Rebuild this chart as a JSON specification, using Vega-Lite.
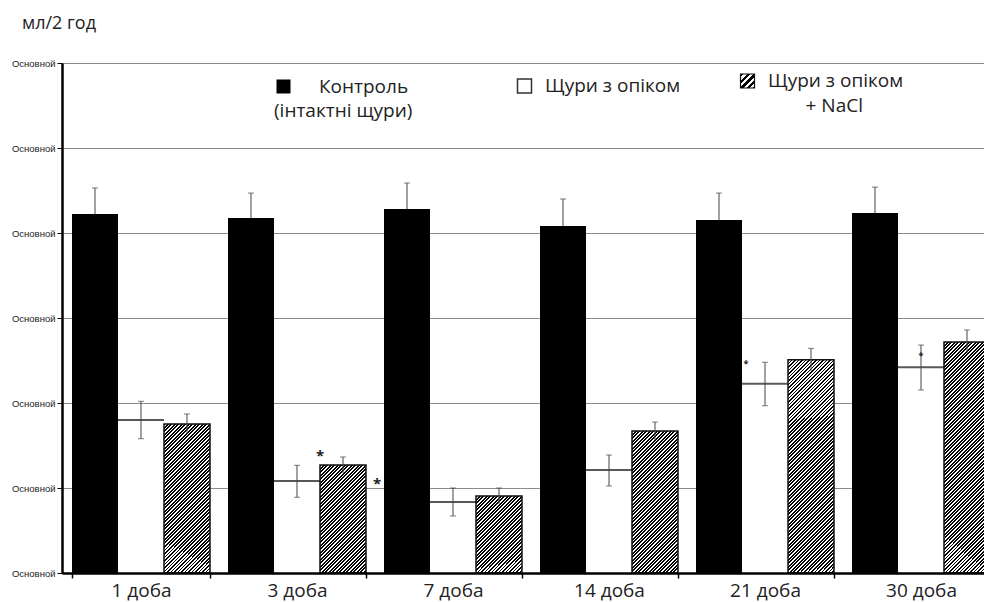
{
  "$schema": "https://vega.github.io/schema/vega-lite/v6.json",
  "autosize": "none",
  "width": 922,
  "height": 510,
  "padding": {"left": 62, "top": 63, "right": 0, "bottom": 29},
  "background": "white",
  "title": {"text": "мл/2 год", "anchor": "start", "frame": "group", "dx": -40, "offset": 11, "fontSize": 18, "fontWeight": "normal", "font": "Open Sans", "color": "#222", "baseline": "alphabetic"},
  "params": [{"name": "hatch", "value": [
    {"offset":0,"color":"#000"},{"offset":0.00625,"color":"#000"},{"offset":0.00625,"color":"#fff"},{"offset":0.0125,"color":"#fff"},
    {"offset":0.0125,"color":"#000"},{"offset":0.01875,"color":"#000"},{"offset":0.01875,"color":"#fff"},{"offset":0.025,"color":"#fff"},
    {"offset":0.025,"color":"#000"},{"offset":0.03125,"color":"#000"},{"offset":0.03125,"color":"#fff"},{"offset":0.0375,"color":"#fff"},
    {"offset":0.0375,"color":"#000"},{"offset":0.04375,"color":"#000"},{"offset":0.04375,"color":"#fff"},{"offset":0.05,"color":"#fff"},
    {"offset":0.05,"color":"#000"},{"offset":0.05625,"color":"#000"},{"offset":0.05625,"color":"#fff"},{"offset":0.0625,"color":"#fff"},
    {"offset":0.0625,"color":"#000"},{"offset":0.06875,"color":"#000"},{"offset":0.06875,"color":"#fff"},{"offset":0.075,"color":"#fff"},
    {"offset":0.075,"color":"#000"},{"offset":0.08125,"color":"#000"},{"offset":0.08125,"color":"#fff"},{"offset":0.0875,"color":"#fff"},
    {"offset":0.0875,"color":"#000"},{"offset":0.09375,"color":"#000"},{"offset":0.09375,"color":"#fff"},{"offset":0.1,"color":"#fff"},
    {"offset":0.1,"color":"#000"},{"offset":0.10625,"color":"#000"},{"offset":0.10625,"color":"#fff"},{"offset":0.1125,"color":"#fff"},
    {"offset":0.1125,"color":"#000"},{"offset":0.11875,"color":"#000"},{"offset":0.11875,"color":"#fff"},{"offset":0.125,"color":"#fff"},
    {"offset":0.125,"color":"#000"},{"offset":0.13125,"color":"#000"},{"offset":0.13125,"color":"#fff"},{"offset":0.1375,"color":"#fff"},
    {"offset":0.1375,"color":"#000"},{"offset":0.14375,"color":"#000"},{"offset":0.14375,"color":"#fff"},{"offset":0.15,"color":"#fff"},
    {"offset":0.15,"color":"#000"},{"offset":0.15625,"color":"#000"},{"offset":0.15625,"color":"#fff"},{"offset":0.1625,"color":"#fff"},
    {"offset":0.1625,"color":"#000"},{"offset":0.16875,"color":"#000"},{"offset":0.16875,"color":"#fff"},{"offset":0.175,"color":"#fff"},
    {"offset":0.175,"color":"#000"},{"offset":0.18125,"color":"#000"},{"offset":0.18125,"color":"#fff"},{"offset":0.1875,"color":"#fff"},
    {"offset":0.1875,"color":"#000"},{"offset":0.19375,"color":"#000"},{"offset":0.19375,"color":"#fff"},{"offset":0.2,"color":"#fff"},
    {"offset":0.2,"color":"#000"},{"offset":0.20625,"color":"#000"},{"offset":0.20625,"color":"#fff"},{"offset":0.2125,"color":"#fff"},
    {"offset":0.2125,"color":"#000"},{"offset":0.21875,"color":"#000"},{"offset":0.21875,"color":"#fff"},{"offset":0.225,"color":"#fff"},
    {"offset":0.225,"color":"#000"},{"offset":0.23125,"color":"#000"},{"offset":0.23125,"color":"#fff"},{"offset":0.2375,"color":"#fff"},
    {"offset":0.2375,"color":"#000"},{"offset":0.24375,"color":"#000"},{"offset":0.24375,"color":"#fff"},{"offset":0.25,"color":"#fff"},
    {"offset":0.25,"color":"#000"},{"offset":0.25625,"color":"#000"},{"offset":0.25625,"color":"#fff"},{"offset":0.2625,"color":"#fff"},
    {"offset":0.2625,"color":"#000"},{"offset":0.26875,"color":"#000"},{"offset":0.26875,"color":"#fff"},{"offset":0.275,"color":"#fff"},
    {"offset":0.275,"color":"#000"},{"offset":0.28125,"color":"#000"},{"offset":0.28125,"color":"#fff"},{"offset":0.2875,"color":"#fff"},
    {"offset":0.2875,"color":"#000"},{"offset":0.29375,"color":"#000"},{"offset":0.29375,"color":"#fff"},{"offset":0.3,"color":"#fff"},
    {"offset":0.3,"color":"#000"},{"offset":0.30625,"color":"#000"},{"offset":0.30625,"color":"#fff"},{"offset":0.3125,"color":"#fff"},
    {"offset":0.3125,"color":"#000"},{"offset":0.31875,"color":"#000"},{"offset":0.31875,"color":"#fff"},{"offset":0.325,"color":"#fff"},
    {"offset":0.325,"color":"#000"},{"offset":0.33125,"color":"#000"},{"offset":0.33125,"color":"#fff"},{"offset":0.3375,"color":"#fff"},
    {"offset":0.3375,"color":"#000"},{"offset":0.34375,"color":"#000"},{"offset":0.34375,"color":"#fff"},{"offset":0.35,"color":"#fff"},
    {"offset":0.35,"color":"#000"},{"offset":0.35625,"color":"#000"},{"offset":0.35625,"color":"#fff"},{"offset":0.3625,"color":"#fff"},
    {"offset":0.3625,"color":"#000"},{"offset":0.36875,"color":"#000"},{"offset":0.36875,"color":"#fff"},{"offset":0.375,"color":"#fff"},
    {"offset":0.375,"color":"#000"},{"offset":0.38125,"color":"#000"},{"offset":0.38125,"color":"#fff"},{"offset":0.3875,"color":"#fff"},
    {"offset":0.3875,"color":"#000"},{"offset":0.39375,"color":"#000"},{"offset":0.39375,"color":"#fff"},{"offset":0.4,"color":"#fff"},
    {"offset":0.4,"color":"#000"},{"offset":0.40625,"color":"#000"},{"offset":0.40625,"color":"#fff"},{"offset":0.4125,"color":"#fff"},
    {"offset":0.4125,"color":"#000"},{"offset":0.41875,"color":"#000"},{"offset":0.41875,"color":"#fff"},{"offset":0.425,"color":"#fff"},
    {"offset":0.425,"color":"#000"},{"offset":0.43125,"color":"#000"},{"offset":0.43125,"color":"#fff"},{"offset":0.4375,"color":"#fff"},
    {"offset":0.4375,"color":"#000"},{"offset":0.44375,"color":"#000"},{"offset":0.44375,"color":"#fff"},{"offset":0.45,"color":"#fff"},
    {"offset":0.45,"color":"#000"},{"offset":0.45625,"color":"#000"},{"offset":0.45625,"color":"#fff"},{"offset":0.4625,"color":"#fff"},
    {"offset":0.4625,"color":"#000"},{"offset":0.46875,"color":"#000"},{"offset":0.46875,"color":"#fff"},{"offset":0.475,"color":"#fff"},
    {"offset":0.475,"color":"#000"},{"offset":0.48125,"color":"#000"},{"offset":0.48125,"color":"#fff"},{"offset":0.4875,"color":"#fff"},
    {"offset":0.4875,"color":"#000"},{"offset":0.49375,"color":"#000"},{"offset":0.49375,"color":"#fff"},{"offset":0.5,"color":"#fff"},
    {"offset":0.5,"color":"#000"},{"offset":0.50625,"color":"#000"},{"offset":0.50625,"color":"#fff"},{"offset":0.5125,"color":"#fff"},
    {"offset":0.5125,"color":"#000"},{"offset":0.51875,"color":"#000"},{"offset":0.51875,"color":"#fff"},{"offset":0.525,"color":"#fff"},
    {"offset":0.525,"color":"#000"},{"offset":0.53125,"color":"#000"},{"offset":0.53125,"color":"#fff"},{"offset":0.5375,"color":"#fff"},
    {"offset":0.5375,"color":"#000"},{"offset":0.54375,"color":"#000"},{"offset":0.54375,"color":"#fff"},{"offset":0.55,"color":"#fff"},
    {"offset":0.55,"color":"#000"},{"offset":0.55625,"color":"#000"},{"offset":0.55625,"color":"#fff"},{"offset":0.5625,"color":"#fff"},
    {"offset":0.5625,"color":"#000"},{"offset":0.56875,"color":"#000"},{"offset":0.56875,"color":"#fff"},{"offset":0.575,"color":"#fff"},
    {"offset":0.575,"color":"#000"},{"offset":0.58125,"color":"#000"},{"offset":0.58125,"color":"#fff"},{"offset":0.5875,"color":"#fff"},
    {"offset":0.5875,"color":"#000"},{"offset":0.59375,"color":"#000"},{"offset":0.59375,"color":"#fff"},{"offset":0.6,"color":"#fff"},
    {"offset":0.6,"color":"#000"},{"offset":0.60625,"color":"#000"},{"offset":0.60625,"color":"#fff"},{"offset":0.6125,"color":"#fff"},
    {"offset":0.6125,"color":"#000"},{"offset":0.61875,"color":"#000"},{"offset":0.61875,"color":"#fff"},{"offset":0.625,"color":"#fff"},
    {"offset":0.625,"color":"#000"},{"offset":0.63125,"color":"#000"},{"offset":0.63125,"color":"#fff"},{"offset":0.6375,"color":"#fff"},
    {"offset":0.6375,"color":"#000"},{"offset":0.64375,"color":"#000"},{"offset":0.64375,"color":"#fff"},{"offset":0.65,"color":"#fff"},
    {"offset":0.65,"color":"#000"},{"offset":0.65625,"color":"#000"},{"offset":0.65625,"color":"#fff"},{"offset":0.6625,"color":"#fff"},
    {"offset":0.6625,"color":"#000"},{"offset":0.66875,"color":"#000"},{"offset":0.66875,"color":"#fff"},{"offset":0.675,"color":"#fff"},
    {"offset":0.675,"color":"#000"},{"offset":0.68125,"color":"#000"},{"offset":0.68125,"color":"#fff"},{"offset":0.6875,"color":"#fff"},
    {"offset":0.6875,"color":"#000"},{"offset":0.69375,"color":"#000"},{"offset":0.69375,"color":"#fff"},{"offset":0.7,"color":"#fff"},
    {"offset":0.7,"color":"#000"},{"offset":0.70625,"color":"#000"},{"offset":0.70625,"color":"#fff"},{"offset":0.7125,"color":"#fff"},
    {"offset":0.7125,"color":"#000"},{"offset":0.71875,"color":"#000"},{"offset":0.71875,"color":"#fff"},{"offset":0.725,"color":"#fff"},
    {"offset":0.725,"color":"#000"},{"offset":0.73125,"color":"#000"},{"offset":0.73125,"color":"#fff"},{"offset":0.7375,"color":"#fff"},
    {"offset":0.7375,"color":"#000"},{"offset":0.74375,"color":"#000"},{"offset":0.74375,"color":"#fff"},{"offset":0.75,"color":"#fff"},
    {"offset":0.75,"color":"#000"},{"offset":0.75625,"color":"#000"},{"offset":0.75625,"color":"#fff"},{"offset":0.7625,"color":"#fff"},
    {"offset":0.7625,"color":"#000"},{"offset":0.76875,"color":"#000"},{"offset":0.76875,"color":"#fff"},{"offset":0.775,"color":"#fff"},
    {"offset":0.775,"color":"#000"},{"offset":0.78125,"color":"#000"},{"offset":0.78125,"color":"#fff"},{"offset":0.7875,"color":"#fff"},
    {"offset":0.7875,"color":"#000"},{"offset":0.79375,"color":"#000"},{"offset":0.79375,"color":"#fff"},{"offset":0.8,"color":"#fff"},
    {"offset":0.8,"color":"#000"},{"offset":0.80625,"color":"#000"},{"offset":0.80625,"color":"#fff"},{"offset":0.8125,"color":"#fff"},
    {"offset":0.8125,"color":"#000"},{"offset":0.81875,"color":"#000"},{"offset":0.81875,"color":"#fff"},{"offset":0.825,"color":"#fff"},
    {"offset":0.825,"color":"#000"},{"offset":0.83125,"color":"#000"},{"offset":0.83125,"color":"#fff"},{"offset":0.8375,"color":"#fff"},
    {"offset":0.8375,"color":"#000"},{"offset":0.84375,"color":"#000"},{"offset":0.84375,"color":"#fff"},{"offset":0.85,"color":"#fff"},
    {"offset":0.85,"color":"#000"},{"offset":0.85625,"color":"#000"},{"offset":0.85625,"color":"#fff"},{"offset":0.8625,"color":"#fff"},
    {"offset":0.8625,"color":"#000"},{"offset":0.86875,"color":"#000"},{"offset":0.86875,"color":"#fff"},{"offset":0.875,"color":"#fff"},
    {"offset":0.875,"color":"#000"},{"offset":0.88125,"color":"#000"},{"offset":0.88125,"color":"#fff"},{"offset":0.8875,"color":"#fff"},
    {"offset":0.8875,"color":"#000"},{"offset":0.89375,"color":"#000"},{"offset":0.89375,"color":"#fff"},{"offset":0.9,"color":"#fff"},
    {"offset":0.9,"color":"#000"},{"offset":0.90625,"color":"#000"},{"offset":0.90625,"color":"#fff"},{"offset":0.9125,"color":"#fff"},
    {"offset":0.9125,"color":"#000"},{"offset":0.91875,"color":"#000"},{"offset":0.91875,"color":"#fff"},{"offset":0.925,"color":"#fff"},
    {"offset":0.925,"color":"#000"},{"offset":0.93125,"color":"#000"},{"offset":0.93125,"color":"#fff"},{"offset":0.9375,"color":"#fff"},
    {"offset":0.9375,"color":"#000"},{"offset":0.94375,"color":"#000"},{"offset":0.94375,"color":"#fff"},{"offset":0.95,"color":"#fff"},
    {"offset":0.95,"color":"#000"},{"offset":0.95625,"color":"#000"},{"offset":0.95625,"color":"#fff"},{"offset":0.9625,"color":"#fff"},
    {"offset":0.9625,"color":"#000"},{"offset":0.96875,"color":"#000"},{"offset":0.96875,"color":"#fff"},{"offset":0.975,"color":"#fff"},
    {"offset":0.975,"color":"#000"},{"offset":0.98125,"color":"#000"},{"offset":0.98125,"color":"#fff"},{"offset":0.9875,"color":"#fff"},
    {"offset":0.9875,"color":"#000"},{"offset":0.99375,"color":"#000"},{"offset":0.99375,"color":"#fff"},{"offset":1,"color":"#fff"}
  ]}],
  "data": {"values": [
    {"day": "1 доба", "series": "Контроль", "value": 4.224, "lo": 4.224, "hi": 4.53},
    {"day": "1 доба", "series": "Щури з опіком", "value": 1.8, "lo": 1.58, "hi": 2.02},
    {"day": "1 доба", "series": "Щури з опіком + NaCl", "value": 1.753, "lo": 1.635, "hi": 1.871},
    {"day": "3 доба", "series": "Контроль", "value": 4.176, "lo": 4.176, "hi": 4.47},
    {"day": "3 доба", "series": "Щури з опіком", "value": 1.082, "lo": 0.891, "hi": 1.267},
    {"day": "3 доба", "series": "Щури з опіком + NaCl", "value": 1.271, "lo": 1.177, "hi": 1.365},
    {"day": "7 доба", "series": "Контроль", "value": 4.282, "lo": 4.282, "hi": 4.588},
    {"day": "7 доба", "series": "Щури з опіком", "value": 0.835, "lo": 0.671, "hi": 1.0},
    {"day": "7 доба", "series": "Щури з опіком + NaCl", "value": 0.906, "lo": 0.812, "hi": 1.0},
    {"day": "14 доба", "series": "Контроль", "value": 4.082, "lo": 4.082, "hi": 4.4},
    {"day": "14 доба", "series": "Щури з опіком", "value": 1.212, "lo": 1.024, "hi": 1.388},
    {"day": "14 доба", "series": "Щури з опіком + NaCl", "value": 1.671, "lo": 1.566, "hi": 1.776},
    {"day": "21 доба", "series": "Контроль", "value": 4.153, "lo": 4.153, "hi": 4.47},
    {"day": "21 доба", "series": "Щури з опіком", "value": 2.226, "lo": 1.968, "hi": 2.479},
    {"day": "21 доба", "series": "Щури з опіком + NaCl", "value": 2.51, "lo": 2.377, "hi": 2.643},
    {"day": "30 доба", "series": "Контроль", "value": 4.235, "lo": 4.235, "hi": 4.54},
    {"day": "30 доба", "series": "Щури з опіком", "value": 2.42, "lo": 2.153, "hi": 2.682},
    {"day": "30 доба", "series": "Щури з опіком + NaCl", "value": 2.718, "lo": 2.577, "hi": 2.859}
  ]},
  "encoding": {
    "x": {"field": "day", "type": "nominal", "sort": ["1 доба", "3 доба", "7 доба", "14 доба", "21 доба", "30 доба"],
      "scale": {"range": [0, 938], "paddingInner": 0.1154, "paddingOuter": 0.0641},
      "axis": {"title": null, "labelFont": "Open Sans", "labelFontSize": 19, "labelColor": "#222", "labelAngle": 0, "labelPadding": 3, "tickBand": "extent", "tickSize": 5, "tickColor": "#000", "tickWidth": 1.5, "domainColor": "#000", "domainWidth": 2.5, "grid": false, "zindex": 2}},
    "xOffset": {"field": "series", "type": "nominal", "sort": ["Контроль", "Щури з опіком", "Щури з опіком + NaCl"],
      "scale": {"domain": ["Контроль", "Щури з опіком", "Щури з опіком + NaCl"], "paddingInner": 0, "paddingOuter": 0}},
    "y": {"field": "value", "type": "quantitative", "scale": {"domain": [0, 6], "nice": false},
      "axis": {"title": null, "values": [0, 1, 2, 3, 4, 5, 6], "labelExpr": "'Основной'", "labelFont": "Liberation Sans", "labelFontSize": 9.5, "labelColor": "#222", "labelPadding": 2, "tickSize": 5, "tickColor": "#000", "tickWidth": 1, "domainColor": "#000", "domainWidth": 2.5, "grid": true, "gridColor": "#8c8c8c", "gridWidth": 1}}
  },
  "layer": [
    {
      "transform": [{"filter": "datum.series === 'Контроль'"}],
      "mark": {"type": "bar"},
      "encoding": {
        "fill": {"field": "series", "type": "nominal", "scale": {"domain": ["Контроль"], "range": ["#000000"]},
          "legend": {"orient": "none", "legendX": 212, "legendY": 14, "padding": 0, "title": "(інтактні щури)", "titleOrient": "bottom", "titleAnchor": "start", "titlePadding": 5, "titleFont": "Open Sans", "titleFontSize": 19, "titleFontWeight": "normal", "titleColor": "#222", "titleLimit": 400, "labelFont": "Open Sans", "labelFontSize": 19, "labelColor": "#222", "labelOffset": 26, "labelLimit": 300, "symbolType": "square", "symbolSize": 196, "symbolStrokeWidth": 0}}
      }
    },
    {
      "transform": [{"filter": "datum.series === 'Щури з опіком'"}],
      "mark": {"type": "bar"},
      "encoding": {
        "fill": {"field": "series", "type": "nominal", "scale": {"domain": ["Щури з опіком"], "range": ["#ffffff"]},
          "legend": {"orient": "none", "legendX": 453, "legendY": 13.5, "padding": 0, "title": null, "labelFont": "Open Sans", "labelFontSize": 19, "labelColor": "#222", "labelOffset": 11, "labelLimit": 300, "symbolType": "square", "symbolSize": 196,
            "encode": {"symbols": {"update": {"fill": {"value": "#ffffff"}, "stroke": {"value": "#333333"}, "strokeWidth": {"value": 1.5}}}}}}
      }
    },
    {
      "transform": [{"filter": "datum.series === 'Щури з опіком + NaCl'"}],
      "mark": {"type": "bar", "strokeWidth": 1.5},
      "encoding": {
        "fill": {"field": "day", "type": "nominal", "legend": null, "scale": {
          "domain": ["1 доба", "3 доба", "7 доба", "14 доба", "21 доба", "30 доба"],
          "range": [
            {"expr": "{gradient: 'linear', x1: 0, y1: 0, x2: 0.5297, y2: 1.7157, stops: hatch}"},
            {"expr": "{gradient: 'linear', x1: 0, y1: 0, x2: 0.9347, y2: 2.1945, stops: hatch}"},
            {"expr": "{gradient: 'linear', x1: 0, y1: 0, x2: 1.601, y2: 2.680, stops: hatch}"},
            {"expr": "{gradient: 'linear', x1: 0, y1: 0, x2: 0.5781, y2: 1.7845, stops: hatch}"},
            {"expr": "{gradient: 'linear', x1: 0, y1: 0, x2: 0.2712, y2: 1.2560, stops: hatch}"},
            {"expr": "{gradient: 'linear', x1: 0, y1: 0, x2: 0.2322, y2: 1.1659, stops: hatch}"}
          ]}},
        "stroke": {"field": "series", "type": "nominal", "scale": {"domain": ["Щури з опіком + NaCl"], "range": ["#111111"]},
          "legend": {"orient": "none", "legendX": 676, "legendY": 8.5, "padding": 0, "title": "+ NaCl", "titleOrient": "bottom", "titleAnchor": "end", "titlePadding": 5, "titleFont": "Open Sans", "titleFontSize": 19, "titleFontWeight": "normal", "titleColor": "#222", "labelFont": "Open Sans", "labelFontSize": 19, "labelColor": "#222", "labelOffset": 11, "labelLimit": 300, "symbolType": "square", "symbolSize": 196,
            "labelExpr": "'Щури з опіком'",
            "symbolFillColor": {"expr": "{gradient: 'linear', x1: 0, y1: 0, x2: 18.86, y2: 18.86, stops: hatch}"},
            "symbolStrokeColor": "#222222",
            "symbolStrokeWidth": 1.2,
            "encode": {"title": {"update": {"dx": {"value": -40}}}}}}
      }
    },
    {
      "transform": [{"filter": "datum.series === 'Щури з опіком'"}],
      "mark": {"type": "tick", "thickness": 2, "color": "#111111"},
      "encoding": {"size": {"value": 46}}
    },
    {
      "mark": {"type": "rule", "color": "#444444", "strokeWidth": 1},
      "encoding": {"y": {"field": "lo", "type": "quantitative"}, "y2": {"field": "hi"}}
    },
    {
      "mark": {"type": "tick", "thickness": 1, "color": "#444444"},
      "encoding": {"y": {"field": "hi", "type": "quantitative"}, "size": {"value": 6}}
    },
    {
      "transform": [{"filter": "datum.series === 'Щури з опіком'"}],
      "mark": {"type": "tick", "thickness": 1, "color": "#444444"},
      "encoding": {"y": {"field": "lo", "type": "quantitative"}, "size": {"value": 6}}
    },
    {
      "data": {"values": [{"day": "3 доба", "series": "Щури з опіком + NaCl", "value": 1.427}]},
      "mark": {"type": "text", "text": "*", "font": "Open Sans", "fontSize": 15, "fontWeight": "bold", "color": "#222", "dx": -23, "dy": 4}
    },
    {
      "data": {"values": [{"day": "3 доба", "series": "Щури з опіком + NaCl", "value": 1.094}]},
      "mark": {"type": "text", "text": "*", "font": "Open Sans", "fontSize": 15, "fontWeight": "bold", "color": "#222", "dx": 34, "dy": 4}
    },
    {
      "data": {"values": [{"day": "21 доба", "series": "Щури з опіком", "value": 2.48}]},
      "mark": {"type": "text", "text": "*", "font": "Open Sans", "fontSize": 9, "fontWeight": "bold", "color": "#222", "dx": -19, "dy": 2}
    },
    {
      "data": {"values": [{"day": "30 доба", "series": "Щури з опіком", "value": 2.58}]},
      "mark": {"type": "text", "text": "*", "font": "Open Sans", "fontSize": 9, "fontWeight": "bold", "color": "#222", "dx": 0, "dy": 2}
    }
  ],
  "resolve": {"scale": {"fill": "independent", "stroke": "independent"}, "legend": {"fill": "independent", "stroke": "independent"}},
  "config": {"view": {"stroke": null}}
}
